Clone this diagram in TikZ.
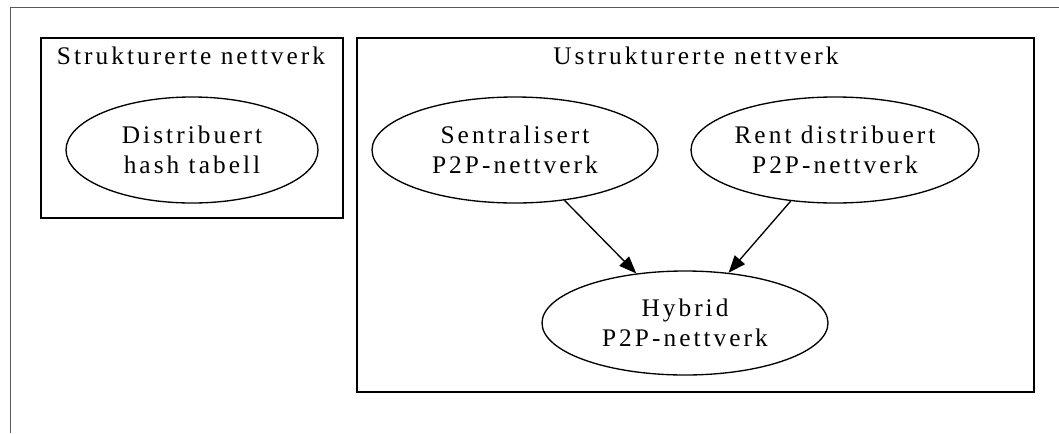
\documentclass[tikz,border=0pt]{standalone}
\usepackage{fontspec}
\setmainfont{Liberation Serif}[LetterSpace=12]
\usetikzlibrary{shapes.geometric,arrows.meta}
\begin{document}
\begin{tikzpicture}[x=0.75pt,y=-0.75pt,
  every node/.style={font=\fontsize{19}{22.5}\selectfont},
  cluster/.style={draw=black,line width=1pt},
  frame/.style={draw=black!65,line width=1.1pt},
  ell/.style={draw=black,line width=1pt,ellipse,inner sep=0pt,align=center},
  lbl/.style={anchor=base,inner sep=0pt},
  arr/.style={draw=black,line width=1pt,-{Triangle[length=13pt,width=10pt]}}]
\useasboundingbox (0,0) rectangle (1059,433);
\draw[frame] (10.5,433) -- (10.5,7.5) -- (1059,7.5);
% clusters
\draw[cluster] (41,38) rectangle (343,218);
\draw[cluster] (357,38) rectangle (1034,392);
\node[lbl] (lblS) at (191,64) {Strukturerte nettverk};
\node[lbl] (lblU) at (696,64) {Ustrukturerte nettverk};
% nodes
\node[ell,minimum width=189pt,minimum height=79.5pt] (dht) at (192,150) {Distribuert\\hash tabell};
\node[ell,minimum width=214.5pt,minimum height=79.5pt] (sen) at (515,150) {Sentralisert\\P2P-nettverk};
\node[ell,minimum width=216pt,minimum height=79.5pt] (rent) at (835,150) {Rent distribuert\\P2P-nettverk};
\node[ell,minimum width=214.5pt,minimum height=78pt] (hyb) at (685,323) {Hybrid\\P2P-nettverk};
% edges
\draw[arr] (sen) -- (hyb);
\draw[arr] (rent) -- (hyb);
\end{tikzpicture}
\end{document}
